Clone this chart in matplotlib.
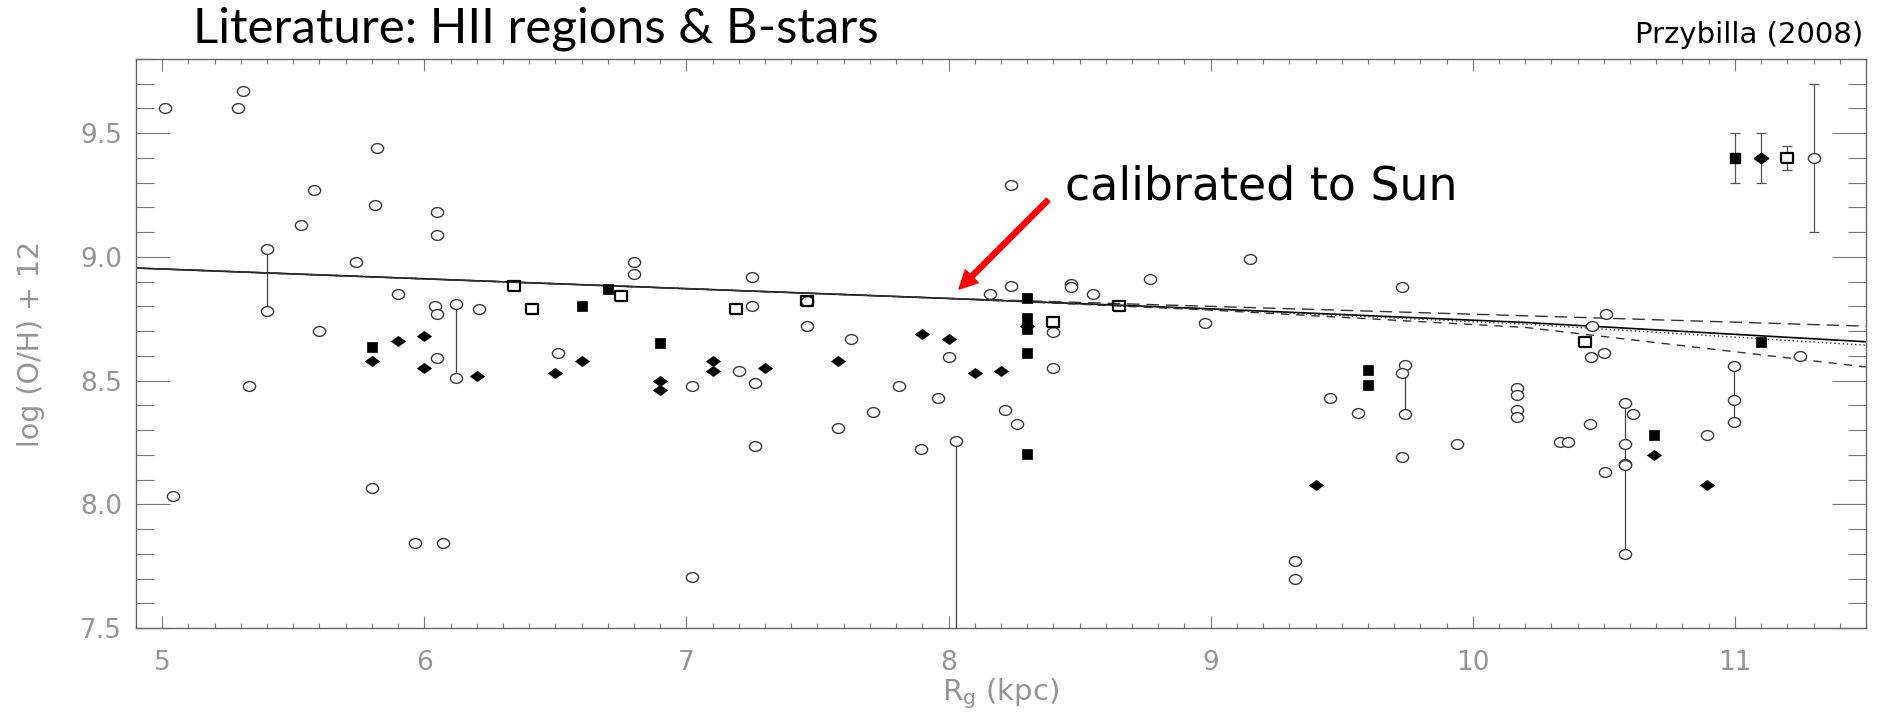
import matplotlib
matplotlib.use('Agg')
import matplotlib.pyplot as plt
from matplotlib.path import Path
from matplotlib.transforms import Affine2D
from matplotlib.ticker import MultipleLocator, FormatStrFormatter

plt.rcParams['font.family'] = ['DejaVu Sans']
plt.rcParams['mathtext.fontset'] = 'dejavusans'

# HII regions (open circles)
hii_x = [5.01, 5.31, 5.29, 5.82, 5.58, 5.81, 6.05, 5.53, 6.05, 5.40, 5.40, 5.74, 5.90,
         6.04, 6.05, 6.12, 6.12, 6.21, 5.60, 6.05, 5.33, 5.04, 5.80, 5.965, 6.07,
         6.80, 6.80, 7.25, 7.25, 7.46, 7.46, 6.51, 7.02, 7.20, 7.26, 7.26, 7.58, 7.02,
         8.237, 8.16, 8.237, 8.40, 8.468, 8.468, 8.55, 8.77, 7.627, 8.00, 8.40, 7.81,
         7.96, 7.71, 8.215, 8.26, 8.03, 7.894,
         9.151, 9.73, 8.977, 10.507, 10.456, 10.45, 10.50,
         9.455, 9.563, 9.74, 9.73, 9.74, 9.73, 9.94, 10.17, 10.17, 10.17, 10.17,
         10.334, 10.362, 10.449, 10.503, 10.58, 10.58, 10.58, 10.58, 10.58, 10.613,
         10.894, 10.995, 10.995, 10.995, 11.248, 9.322, 9.322]
hii_y = [9.60, 9.67, 9.60, 9.44, 9.27, 9.21, 9.18, 9.13, 9.09, 9.03, 8.78, 8.98, 8.85,
         8.80, 8.77, 8.81, 8.51, 8.79, 8.70, 8.59, 8.48, 8.035, 8.066, 7.845, 7.845,
         8.98, 8.93, 8.92, 8.80, 8.82, 8.72, 8.61, 8.48, 8.54, 8.49, 8.234, 8.31, 7.707,
         9.289, 8.852, 8.883, 8.695, 8.89, 8.88, 8.852, 8.91, 8.67, 8.594, 8.55, 8.48,
         8.43, 8.375, 8.383, 8.324, 8.255, 8.225,
         8.99, 8.88, 8.731, 8.77, 8.72, 8.594, 8.61,
         8.431, 8.37, 8.5625, 8.53, 8.363, 8.19, 8.242, 8.472, 8.442, 8.38, 8.352,
         8.252, 8.252, 8.323, 8.129, 8.41, 8.242, 8.163, 8.157, 7.80, 8.363,
         8.282, 8.56, 8.422, 8.332, 8.60, 7.77, 7.70]

# B-stars, filled squares
bsq_x = [5.80, 6.60, 6.70, 6.90, 8.30, 8.30, 8.30, 8.30, 8.30, 9.60, 9.60, 10.69, 11.10]
bsq_y = [8.634, 8.80, 8.87, 8.65, 8.833, 8.755, 8.708, 8.61, 8.204, 8.542, 8.481, 8.28, 8.655]

# B-stars, filled diamonds
bdi_x = [5.80, 5.90, 6.00, 6.00, 6.20, 6.50, 6.60, 6.90, 6.90, 7.10, 7.10, 7.30, 7.58,
         7.90, 8.00, 8.10, 8.20, 8.30, 9.40, 10.69, 10.894]
bdi_y = [8.58, 8.66, 8.68, 8.55, 8.52, 8.53, 8.58, 8.50, 8.46, 8.58, 8.54, 8.55, 8.58,
         8.69, 8.67, 8.53, 8.54, 8.72, 8.079, 8.198, 8.079]

# B-stars, open squares
bos_x = [6.342, 6.41, 6.75, 7.19, 7.46, 8.40, 8.65, 10.43]
bos_y = [8.883, 8.79, 8.84, 8.79, 8.82, 8.735, 8.80, 8.655]

# typical uncertainties (upper right)
err_x = [11.0, 11.1, 11.2, 11.3]
err_y = [9.4, 9.4, 9.4, 9.4]
err_e = [0.1, 0.1, 0.05, 0.3]

# ranges of multiple determinations
rng_x = [5.40, 6.12, 8.03, 9.74, 10.58, 10.995]
rng_lo = [8.78, 8.51, 7.30, 8.363, 7.80, 8.332]
rng_hi = [9.03, 8.81, 8.255, 8.5625, 8.41, 8.56]

# gradients
grad_x = [4.9, 8.0, 9.0, 10.2, 11.5]
grad_solid = [8.955, 8.832, 8.79, 8.735, 8.657]
grad_dot = [8.955, 8.832, 8.788, 8.728, 8.643]
grad_long = [8.955, 8.832, 8.80, 8.762, 8.72]
grad_dash = [8.955, 8.832, 8.785, 8.715, 8.555]

oval = Path.unit_circle().transformed(Affine2D().scale(1.0, 0.8))
diamond = [(-1, 0), (0, 0.72), (1, 0), (0, -0.72), (-1, 0)]
rect = [(-1, -0.85), (1, -0.85), (1, 0.85), (-1, 0.85), (-1, -0.85)]

fig = plt.figure(figsize=(18.81, 7.13), dpi=100)
ax = fig.add_axes([0.0723, 0.1192, 0.9197, 0.7981])

ax.plot(grad_x, grad_solid, color='black', lw=1.2, zorder=2)
ax.plot(grad_x, grad_dot, color='#333333', lw=1.0, ls=(0, (1, 2)), zorder=2)
ax.plot(grad_x, grad_long, color='#333333', lw=1.0, ls=(0, (9, 5)), zorder=2)
ax.plot(grad_x, grad_dash, color='#333333', lw=1.0, ls=(0, (6, 5)), zorder=2)

ax.vlines(rng_x, rng_lo, rng_hi, color='#444444', lw=0.9, zorder=2)

ax.plot(hii_x, hii_y, ls='none', marker=oval, ms=8.8, mfc='white', mec='#3a3a3a',
        mew=1.0, zorder=3)
ax.plot(bsq_x, bsq_y, ls='none', marker='s', ms=7.4, mfc='black', mec='black', mew=0.5,
        zorder=4)
ax.plot(bdi_x, bdi_y, ls='none', marker=diamond, ms=10.5, mfc='black', mec='black',
        mew=0.3, zorder=4)
ax.plot(bos_x, bos_y, ls='none', marker=rect, ms=8.2, mfc='none', mec='black', mew=1.6,
        zorder=4)

ax.errorbar(err_x, err_y, yerr=err_e, fmt='none', ecolor='#555555', elinewidth=0.9,
            capsize=3.5, capthick=0.9, zorder=2)
ax.plot(err_x[0], err_y[0], ls='none', marker='s', ms=7.4, mfc='black', mec='black', zorder=4)
ax.plot(err_x[1], err_y[1], ls='none', marker=diamond, ms=10.5, mfc='black', mec='black', zorder=4)
ax.plot(err_x[2], err_y[2], ls='none', marker=rect, ms=8.2, mfc='white', mec='black', mew=1.6, zorder=4)
ax.plot(err_x[3], err_y[3], ls='none', marker=oval, ms=8.8, mfc='white', mec='#3a3a3a', mew=1.0, zorder=4)

ax.annotate('', xy=(8.04, 8.87), xytext=(8.38, 9.23),
            arrowprops=dict(color='#ff0000', width=3.6, headwidth=13, headlength=13, shrink=0))
ax.text(8.444, 9.23, 'calibrated to Sun', fontsize=33, color='black', va='baseline')

ax.set_xlim(4.9, 11.5)
ax.set_ylim(7.5, 9.8)
ax.xaxis.set_major_locator(MultipleLocator(1))
ax.xaxis.set_minor_locator(MultipleLocator(0.1))
ax.yaxis.set_major_locator(MultipleLocator(0.5))
ax.yaxis.set_minor_locator(MultipleLocator(0.1))
ax.yaxis.set_major_formatter(FormatStrFormatter('%.1f'))

ax.tick_params(which='both', direction='in', top=True, right=True, color='#777777', width=0.8)
ax.tick_params(axis='x', which='major', length=8.3, pad=16)
ax.tick_params(axis='x', which='minor', length=3.8)
ax.tick_params(axis='y', which='major', length=24.5, pad=10)
ax.tick_params(axis='y', which='minor', length=13)
for lab in ax.get_xticklabels() + ax.get_yticklabels():
    lab.set_fontsize(19)
    lab.set_color('#959595')
for s in ax.spines.values():
    s.set_color('#666666')
    s.set_linewidth(1.0)

ax.set_xlabel(r'R$_\mathrm{g}$ (kpc)', fontsize=21, color='#959595', va='center')
ax.xaxis.set_label_coords(0.5, -0.116)
ax.set_ylabel('log (O/H) + 12', fontsize=20.5, color='#959595', va='center', ha='center')
ax.yaxis.set_label_coords(-0.0607, 0.5)

fig.text(0.1026, 0.9397, 'Literature: HII regions & B-stars', fontsize=35.5, color='black',
         va='baseline', ha='left', family='Lato')
fig.text(0.9904, 0.9397, 'Przybilla (2008)', fontsize=21, color='black',
         va='baseline', ha='right')

fig.savefig('out.png', dpi=100)
